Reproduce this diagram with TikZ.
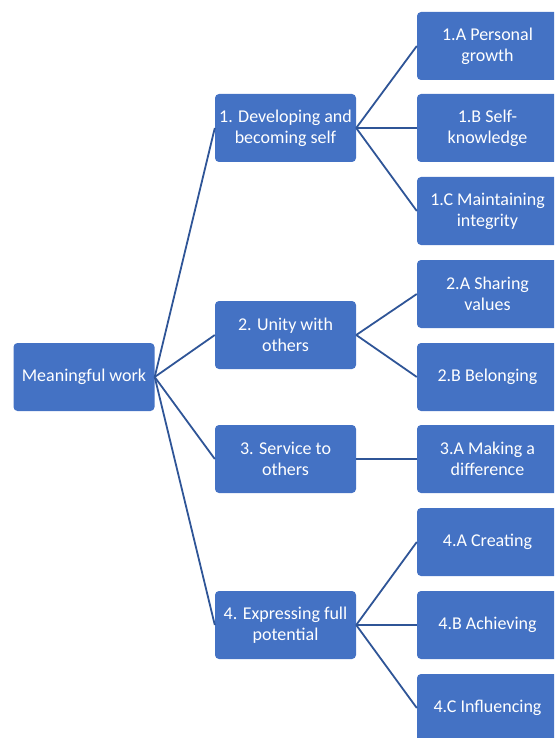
\documentclass[tikz,border=0pt]{standalone}
\usepackage{fontspec}
\setmainfont{Carlito}
\definecolor{boxblue}{HTML}{4472C4}
\definecolor{lineblue}{HTML}{2F5597}
\begin{document}
\begin{tikzpicture}[x=1pt,y=1pt,
  bx/.style={draw=none, fill=boxblue, rounded corners=4pt, minimum width=141pt, minimum height=68pt,
     text=white, align=center, font=\fontsize{18}{21}\selectfont, inner sep=1pt},
  conn/.style={draw=lineblue, line width=1.8pt}]
\clip (0,0) rectangle (554,-738);
\useasboundingbox (0,0) rectangle (554,-738);
\node[bx] (root) at (84,-377) {Meaningful work};
\node[bx] (n1) at (285.5,-128) {1. Developing and\\becoming self};
\node[bx] (n2) at (285.5,-335) {2. Unity with\\others};
\node[bx] (n3) at (285.5,-459) {3. Service to\\others};
\node[bx] (n4) at (285.5,-625) {4. Expressing full\\potential};
\node[bx] (a1) at (487.5,-46) {1.A Personal\\growth};
\node[bx] (b1) at (487.5,-128) {1.B Self-\\knowledge};
\node[bx] (c1) at (487.5,-211) {1.C Maintaining\\integrity};
\node[bx] (a2) at (487.5,-294) {2.A Sharing\\values};
\node[bx] (b2) at (487.5,-377) {2.B Belonging};
\node[bx] (a3) at (487.5,-459) {3.A Making a\\difference};
\node[bx] (a4) at (487.5,-542) {4.A Creating};
\node[bx] (b4) at (487.5,-625) {4.B Achieving};
\node[bx] (c4) at (487.5,-708) {4.C Influencing};
\foreach \t in {n1,n2,n3,n4} \draw[conn] (root.east) -- (\t.west);
\foreach \t in {a1,b1,c1} \draw[conn] (n1.east) -- (\t.west);
\foreach \t in {a2,b2} \draw[conn] (n2.east) -- (\t.west);
\draw[conn] (n3.east) -- (a3.west);
\foreach \t in {a4,b4,c4} \draw[conn] (n4.east) -- (\t.west);
\end{tikzpicture}
\end{document}
